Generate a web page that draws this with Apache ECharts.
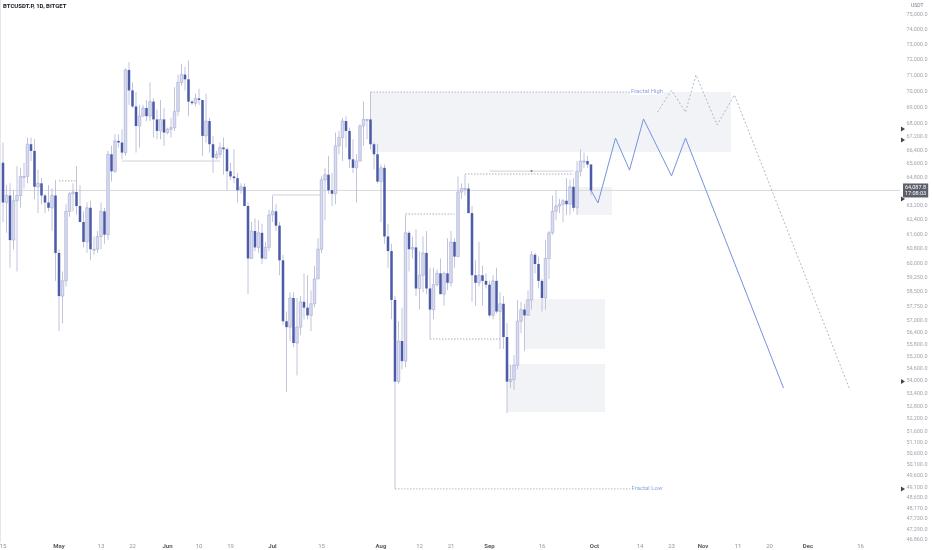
<!DOCTYPE html>
<html><head><meta charset="utf-8">
<script src="https://cdn.jsdelivr.net/npm/echarts@6/dist/echarts.min.js"></script>
<style>html,body{margin:0;padding:0;background:#fff}#c{width:932px;height:550px}</style>
</head><body><div id="c"></div>
<script>
const startDate = '2024-04-15';
const opens = [
65700,63400,63800,61300,63500,63800,64900,64900,66800,66400,64300,64500,63800,63400,63100,63800,
60600,58300,59100,62900,63900,64000,63200,62300,61200,63100,60800,60800,61500,62900,61600,66200,65200,67000,66900,66300,71400,70100,69100,67900,68500,69000,68500,69400,68300,67600,68300,
67500,67700,67800,68800,70600,71100,70800,69400,69300,69600,69500,67300,68200,66800,66000,66200,66600,66500,65200,64900,64800,64100,64300,63200,60300,61800,60900,61700,60300,60900,
62700,62900,62100,60200,57000,56700,58200,55900,56700,58000,57700,57300,57900,59200,60800,64700,65000,64100,63900,66700,67200,68200,67600,65900,65400,65800,67900,68300,68300,66800,66200,
64600,65400,61500,60700,58100,54000,56000,55000,61700,60800,60900,58700,59400,60600,58700,57600,58900,59500,58400,59500,59000,61200,60400,64000,64200,64200,62800,59400,59000,59400,59100,
58900,57300,59100,57500,57900,56200,54000,54100,54800,57000,57600,57300,58100,60500,60000,59100,58200,60300,61700,62900,63200,63300,63500,63300,64300,63100,65200,65800,65800,65600];
const highs = [
66900,64400,64500,64100,65500,65400,65700,67200,67200,67100,65300,64800,63900,64400,64200,64700,
60800,59600,63300,64000,64500,65500,64400,62900,63400,63500,61500,61800,63400,63100,66400,66700,67400,67400,67700,71500,71900,70600,70000,69200,69200,69500,70600,69600,68900,69500,69000,
67800,68400,70300,71100,71800,71600,72000,69500,69900,70200,69500,69900,68400,67300,66400,66900,67200,66600,65700,66500,65100,64500,64500,63400,62300,62500,62400,62200,61200,63000,
63800,63300,62300,60500,57500,58500,58500,58200,58300,59500,59400,58600,59900,61400,64900,65400,66100,65100,67500,67600,68400,68500,67800,67100,66200,68000,69400,68300,70000,66900,66800,
65600,65600,62200,61100,58300,57000,57700,62700,61800,61500,61900,60700,61500,61800,59800,59800,59700,60300,59600,61400,61800,61400,64900,64500,65000,64500,63200,60200,61200,59900,59500,
59100,59400,59800,58500,58300,56900,54800,55300,58100,58000,57900,58600,60700,60600,60400,59200,61300,61800,63800,64100,63600,63600,64800,64700,64800,65800,66500,66300,66100,65600];
const lows = [
62300,61700,59800,60800,59600,63100,64200,64500,65800,63600,62800,63300,62800,62900,61800,59100,
56500,56900,58800,62600,62900,62700,62300,60900,60600,60200,60500,60600,60800,61100,61300,64600,65100,66600,65900,66100,69200,69000,66300,66600,68500,68200,68200,67200,67100,67100,66700,
67400,67200,67600,68500,70400,70100,68500,69200,69100,69200,66100,66900,66300,65100,65900,66000,65000,64100,64700,64500,63400,63900,63200,58400,60300,60700,60600,60000,60300,60700,
62300,61800,59400,56800,53500,56000,55700,54300,56300,57100,57100,56500,57700,59200,60600,62400,63900,63200,63300,66200,65800,66600,65400,65100,63400,65800,66700,67100,66500,65300,64500,
62300,61100,59800,57100,49050,53900,54600,54700,59600,60300,58300,57600,58500,58400,56100,57100,58800,58400,57800,58600,58800,59800,60400,63600,63800,62800,58000,57800,58800,57800,58700,
57200,57100,57400,55600,55600,52500,53700,53600,54600,56400,55500,57300,57600,59500,58700,57500,57600,59200,61600,62400,62800,62300,62700,62700,62900,62700,64900,65400,65400,63800];
const closes = [
63400,63800,61300,63500,63800,64900,64900,66800,66400,64300,64500,63800,63400,63100,63800,60600,
58300,59100,62900,63900,64000,63200,62300,61200,63100,60800,60800,61500,62900,61600,66200,65200,67000,66900,66300,71400,70100,69100,67900,68500,69000,68500,69400,68300,67600,68300,67500,
67700,67800,68800,70600,71100,70800,69400,69300,69600,69500,67300,68200,66800,66000,66200,66600,66500,65200,64900,64800,64100,64300,63200,60300,61800,60900,61700,60300,60900,62700,
62900,62100,60200,57000,56700,58200,55900,56700,58000,57700,57300,57900,59200,60800,64700,65000,64100,63900,66700,67200,68200,67600,65900,65400,65800,67900,68300,68300,66800,66200,64600,
65400,61500,60700,58100,54000,56000,55000,61700,60800,60900,58700,59400,60600,58700,57600,58900,59500,58400,59500,59000,61200,60400,64000,64200,64200,62800,59400,59000,59400,59100,58900,
57300,59100,57500,57900,56200,54000,54100,54800,57000,57600,57300,58100,60500,60000,59100,58200,60300,61700,62900,63200,63300,63500,63300,64300,63100,65200,65800,65800,65600,64087.8];

const priceTicks = [75000,74000,73000,72000,71000,70000,69000,68000,67200,66400,65600,64800,63200,62400,61600,60800,60000,59250,58500,57750,57000,56400,55800,55200,54600,54000,53400,52800,52200,51600,51100,50600,50100,49600,49100,48650,48170,47730,47290,46860];
const timeTicks = ['2024-04-15','2024-05-01','2024-05-13','2024-05-22','2024-06-01','2024-06-10','2024-06-19','2024-07-01','2024-07-15','2024-08-01','2024-08-12','2024-08-21','2024-09-01','2024-09-16','2024-10-01','2024-10-14','2024-10-23','2024-11-01','2024-11-11','2024-11-20','2024-12-01','2024-12-16'];
const monthNames = ['Jan','Feb','Mar','Apr','May','Jun','Jul','Aug','Sep','Oct','Nov','Dec'];

const zoneStart = ['2024-07-29','2024-09-11','2024-09-06','2024-09-26'];
const zoneEnd   = ['2024-11-09','2024-10-04','2024-10-04','2024-10-06'];
const zoneLow   = [66340, 55600, 52550, 62690];
const zoneHigh  = [70000, 58150, 54860, 64290];

const solidStart = ['2024-05-19','2024-07-01','2024-09-01'];
const solidEnd   = ['2024-06-16','2024-07-15','2024-09-25'];
const solidPrice = [65800, 63830, 65210];

const dotStart = ['2024-05-01','2024-08-08','2024-08-15','2024-08-25'];
const dotEnd   = ['2024-05-06','2024-08-22','2024-09-04','2024-09-25'];
const dotPrice = [64640, 62750, 56100, 65040];

const fractalNames = ['Fractal High','Fractal Low'];
const fractalStart = ['2024-07-29','2024-08-05'];
const fractalEnd   = ['2024-10-12','2024-10-12'];
const fractalPrice = [70000, 49050];
const fractalLabelDate = ['2024-10-16','2024-10-16'];

const pathDates  = ['2024-09-30','2024-10-02','2024-10-07','2024-10-11','2024-10-15','2024-10-23','2024-10-27','2024-11-24'];
const pathValues = [64087.8, 63380, 67170, 65270, 68330, 64930, 67170, 53690];
const altDates  = ['2024-10-19','2024-10-23','2024-10-27','2024-10-30','2024-11-05','2024-11-10','2024-12-13'];
const altValues = [68750, 70100, 68750, 71080, 67960, 69810, 53590];

const alertPrices = [67720, 67050, 63600, 54000, 49050];
const markerDate = '2024-09-13', markerPrice = 65210;

const DAY = 86400000;
const ts = s => Date.parse(s + 'T00:00:00Z');
const t0 = ts(startDate);
const candles = opens.map((o, i) => [t0 + i * DAY, o, closes[i], lows[i], highs[i]]);
const lastClose = closes[closes.length - 1];
const xMin = t0 - (3 / 3.5) * DAY, xMax = t0 + (897 / 3.5) * DAY;

function fmtPrice(v) {
  const s = v.toFixed(1); const [a, b] = s.split('.');
  return a.replace(/\B(?=(\d{3})+(?!\d))/g, ',') + '.' + b;
}
const UP_FILL = '#d9dcef', UP_BORDER = '#aab0d8', DOWN_FILL = '#4c5ba8', WICK = '#b9bdd6';
const FONT = 'Roboto, "Liberation Sans", sans-serif';

function renderCandle(params, api) {
  const t = api.value(0), o = api.value(1), c = api.value(2), l = api.value(3), h = api.value(4);
  const pO = api.coord([t, o]), pC = api.coord([t, c]), pL = api.coord([t, l]), pH = api.coord([t, h]);
  const half = (api.coord([t + DAY * 0.36, o])[0] - api.coord([t - DAY * 0.36, o])[0]) / 2;
  const up = c >= o;
  const xc = pO[0];
  const top = Math.min(pO[1], pC[1]);
  const hgt = Math.max(Math.abs(pO[1] - pC[1]), 1);
  return { type: 'group', children: [
    { type: 'line', shape: { x1: xc, y1: pH[1], x2: xc, y2: pL[1] }, style: { stroke: WICK, lineWidth: 0.9 } },
    { type: 'rect', shape: { x: xc - half, y: top, width: half * 2, height: hgt },
      style: { fill: up ? UP_FILL : DOWN_FILL, stroke: up ? UP_BORDER : DOWN_FILL, lineWidth: up ? 0.7 : 0 } }
  ]};
}
function renderZone(params, api) {
  const p1 = api.coord([api.value(0), api.value(3)]);
  const p2 = api.coord([api.value(1), api.value(2)]);
  return { type: 'rect', shape: { x: p1[0], y: p1[1], width: p2[0] - p1[0], height: p2[1] - p1[1] },
    style: { fill: '#f2f3f7' } };
}
function segSeries(starts, ends, prices, style) {
  return starts.map((s, i) => ({
    type: 'line', xAxisIndex: 0, yAxisIndex: 0, symbol: 'none', silent: true, z: 2,
    data: [[ts(s), prices[i]], [ts(ends[i]), prices[i]]], lineStyle: style
  }));
}

const series = [
  { type: 'custom', z: 1, silent: true, renderItem: renderZone, encode: { x: [0, 1], y: [2, 3] },
    data: zoneStart.map((s, i) => [ts(s), ts(zoneEnd[i]), zoneLow[i], zoneHigh[i]]) },
  { type: 'line', symbol: 'none', silent: true, z: 2,
    data: [[xMin, lastClose], [xMax, lastClose]], lineStyle: { color: '#d9dae0', width: 1 },
    endLabel: { show: true, formatter: fmtPrice(lastClose) + '\n17:08:03', distance: 3,
      backgroundColor: '#5d606b', color: '#fff', fontSize: 5.5, lineHeight: 6, padding: [1, 2, 1, 2], fontFamily: FONT } },
  ...segSeries(solidStart, solidEnd, solidPrice, { color: '#cfd1da', width: 1 }),
  ...segSeries(dotStart, dotEnd, dotPrice, { color: '#9a9daa', width: 0.8, type: [1.5, 1.5] }),
  ...segSeries(fractalStart, fractalEnd, fractalPrice, { color: '#a3a8bd', width: 0.8, type: [1.5, 1.5] }),
  { type: 'custom', z: 3, silent: true, renderItem: renderCandle, encode: { x: 0, y: [1, 2, 3, 4] }, data: candles },
  { type: 'line', symbol: 'none', silent: true, z: 4,
    data: pathDates.map((d, i) => [ts(d), pathValues[i]]), lineStyle: { color: '#7594dd', width: 1 } },
  { type: 'line', symbol: 'none', silent: true, z: 4,
    data: altDates.map((d, i) => [ts(d), altValues[i]]), lineStyle: { color: '#9aa6c6', width: 0.8, type: [2, 2] } },
  { type: 'scatter', silent: true, z: 5, symbolSize: 1, itemStyle: { color: 'transparent' },
    data: fractalNames.map((n, i) => ({ name: n, value: [ts(fractalLabelDate[i]), fractalPrice[i]] })),
    label: { show: true, position: 'inside', formatter: p => p.name, color: '#6d8ed9', fontSize: 6, fontFamily: FONT,
      backgroundColor: '#fff', padding: [0, 1] } },
  { type: 'scatter', silent: true, z: 5, symbolSize: 2, itemStyle: { color: '#5d606b' },
    data: [[ts(markerDate), markerPrice]] },
  { type: 'scatter', xAxisIndex: 1, yAxisIndex: 0, silent: true, clip: false, symbolSize: 1,
    itemStyle: { color: 'transparent' }, data: priceTicks.map(v => [1, v]),
    label: { show: true, position: [28, 0], align: 'right', verticalAlign: 'middle',
      formatter: p => fmtPrice(p.value[1]), fontSize: 5.5, color: '#8c8f9a', fontFamily: FONT } },
  { type: 'scatter', xAxisIndex: 1, yAxisIndex: 0, silent: true, clip: false, symbol: 'triangle',
    symbolRotate: -90, symbolSize: [5, 4], symbolOffset: [3, 0], itemStyle: { color: '#131722' },
    data: alertPrices.map(v => [1, v]) },
  { type: 'scatter', xAxisIndex: 0, yAxisIndex: 1, silent: true, clip: false, symbolSize: 1,
    itemStyle: { color: 'transparent' }, data: timeTicks.map(t => [ts(t), 0]),
    label: { show: true, position: 'bottom', distance: 1,
      formatter: p => { const d = new Date(p.value[0]); return d.getUTCDate() === 1 ? '{m|' + monthNames[d.getUTCMonth()] + '}' : '{d|' + d.getUTCDate() + '}'; },
      rich: { m: { fontSize: 6, fontWeight: 'bold', color: '#2a2e39', fontFamily: FONT },
              d: { fontSize: 6, color: '#787b86', fontFamily: FONT } } } }
];

const chart = echarts.init(document.getElementById('c'), null, { renderer: 'canvas' });
chart.setOption({
  animation: false,
  backgroundColor: '#ffffff',
  grid: { left: 0, right: 32, top: 0, bottom: 8, containLabel: false, outerBoundsMode: 'none' },
  xAxis: [
    { type: 'time', min: xMin, max: xMax, splitLine: { show: false }, axisTick: { show: false },
      axisLine: { show: false }, axisLabel: { show: false } },
    { type: 'value', min: 0, max: 1, show: false }
  ],
  yAxis: [
    { type: 'log', logBase: 10, min: 46770, max: 76015, position: 'right', splitLine: { show: false },
      axisTick: { show: false }, axisLabel: { show: false },
      axisLine: { show: true, lineStyle: { color: '#e6e7eb', width: 1 } } },
    { type: 'value', min: 0, max: 1, show: false }
  ],
  graphic: [
    { type: 'text', left: 3, top: 3, style: { text: 'BTCUSDT.P, 1D, BITGET', fontSize: 6, fontWeight: 'bold', fill: '#131722', fontFamily: FONT } },
    { type: 'text', left: 911, top: 3, style: { text: 'USDT', fontSize: 5, fill: '#787b86', fontFamily: FONT } }
  ],
  series
});
</script></body></html>
